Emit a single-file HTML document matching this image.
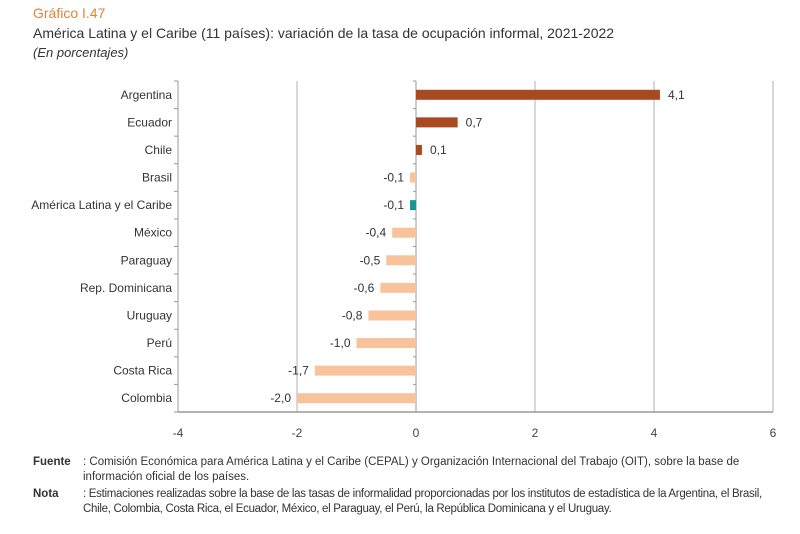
<!DOCTYPE html>
<html><head><meta charset="utf-8"><style>
body{margin:0;background:#fff;width:800px;height:534px;overflow:hidden;font-family:"Liberation Sans",sans-serif}
.t{position:absolute;left:33px;white-space:nowrap}
</style></head><body>
<div class="t" style="top:5px;font-size:14px;color:#e0833a">Gráfico I.47</div>
<div class="t" style="top:25px;font-size:14px;color:#333">América Latina y el Caribe (11 países): variación de la tasa de ocupación informal, 2021-2022</div>
<div class="t" style="top:45px;font-size:13px;font-style:italic;color:#333">(En porcentajes)</div>
<svg id="c" width="800" height="450" style="position:absolute;left:0;top:0"></svg>
<div style="position:absolute;left:33px;top:455px;font-size:11.5px;color:#333;line-height:15px;width:750px">
<div style="display:flex"><b style="width:50px;flex:none">Fuente</b><span>: Comisión Económica para América Latina y el Caribe (CEPAL) y Organización Internacional del Trabajo (OIT), sobre la base de información oficial de los países.</span></div>
<div style="display:flex;margin-top:2px"><b style="width:50px;flex:none">Nota</b><span style="letter-spacing:-0.3px">: Estimaciones realizadas sobre la base de las tasas de informalidad proporcionadas por los institutos de estadística de la Argentina, el Brasil, Chile, Colombia, Costa Rica, el Ecuador, México, el Paraguay, el Perú, la República Dominicana y el Uruguay.</span></div>
</div>
<script>
const categories=["Argentina","Ecuador","Chile","Brasil","América Latina y el Caribe","México","Paraguay","Rep. Dominicana","Uruguay","Perú","Costa Rica","Colombia"];
const values=[4.1,0.7,0.1,-0.1,-0.1,-0.4,-0.5,-0.6,-0.8,-1.0,-1.7,-2.0];
const labels=["4,1","0,7","0,1","-0,1","-0,1","-0,4","-0,5","-0,6","-0,8","-1,0","-1,7","-2,0"];
const ticks=[-4,-2,0,2,4,6];
const svg=document.getElementById('c');const NS='http://www.w3.org/2000/svg';
const x0=178,x1=773,vmin=-4,vmax=6,yTop=81,yBot=412;
const X=v=>x0+(v-vmin)/(vmax-vmin)*(x1-x0);
const step=(yBot-yTop)/categories.length;
const Y=i=>yTop+step*(i+0.5);
function mk(t,a,txt){const e=document.createElementNS(NS,t);for(const k in a)e.setAttribute(k,a[k]);if(txt!=null)e.textContent=txt;svg.appendChild(e);return e;}
ticks.forEach(t=>{
 if(t!==-4&&t!==0){const g=mk('line',{x1:X(t),x2:X(t),y1:yTop,y2:yBot,stroke:'#b0b0b0','stroke-width':1});
 
 }
 const l=mk('text',{x:X(t),y:437,'text-anchor':'middle','font-size':12,fill:'#444'},String(t));
 
 
});
const ax=mk('line',{x1:x0,x2:x1,y1:yBot,y2:yBot,stroke:'#999','stroke-width':1.5});


const ay=mk('line',{x1:x0,x2:x0,y1:yTop,y2:yBot,stroke:'#999','stroke-width':1});


const az=mk('line',{x1:X(0),x2:X(0),y1:yTop,y2:yBot,stroke:'#999','stroke-width':1});


for(let i=0;i<=categories.length;i++){const yy=yTop+step*i;
 mk('line',{x1:x0-4,x2:x0,y1:yy,y2:yy,stroke:'#999'});mk('line',{x1:X(0)-3,x2:X(0),y1:yy,y2:yy,stroke:'#999'});}
categories.forEach((c,i)=>{
 const v=values[i],y=Y(i);
 const col=c.startsWith('América')?'#16968e':(v>0?'#a9491f':'#f8c39b');
 const b=mk('rect',{x:Math.min(X(0),X(v)),y:y-5,width:Math.abs(X(v)-X(0)),height:10,fill:col});
 
 
 const n=mk('text',{x:x0-6,y:y+4,'text-anchor':'end','font-size':12,fill:'#333'},c);
 
 
 const vl=mk('text',{x:v>0?X(v)+8:X(v)-6,y:y+4,'text-anchor':v>0?'start':'end','font-size':12,fill:'#333'},labels[i]);
 
 
});
</script>
</body></html>
